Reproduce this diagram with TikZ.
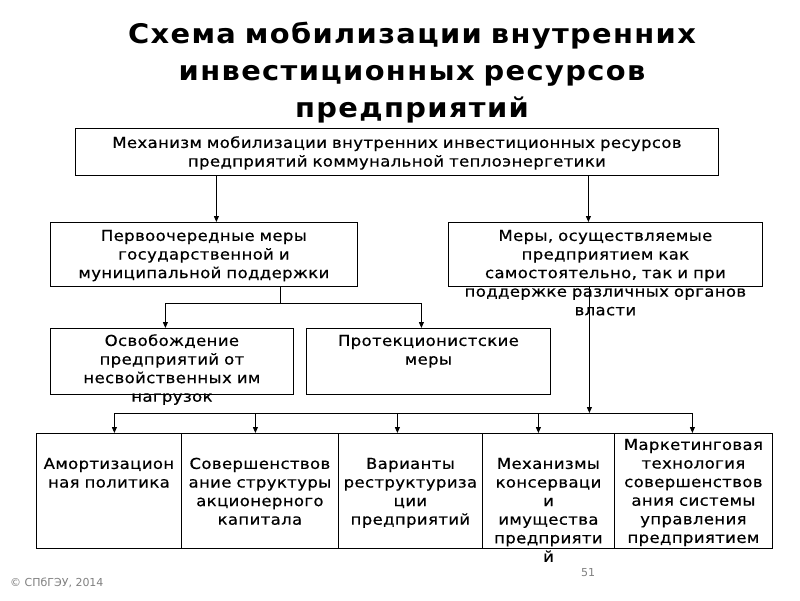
\documentclass[tikz,border=0pt]{standalone}
\usepackage{fontspec}
\setmainfont{DejaVu Sans}[FakeStretch=1.1,LetterSpace=2.5]
\newfontfamily\footfont{DejaVu Sans}
\usetikzlibrary{arrows.meta}

\tikzset{
  blk/.style={draw, line width=0.8pt, inner sep=0pt, anchor=north west, align=center,
    font=\fontsize{15}{18.6}\selectfont\addfontfeatures{FakeBold=0.5}},
  lnk/.style={line width=0.8pt},
  arr/.style={line width=0.8pt, -{Triangle[length=6pt,width=5pt]}},
  foot/.style={text=gray, inner sep=0pt, font=\footfont\fontsize{11}{13}\selectfont},
}

\begin{document}
\begin{tikzpicture}[x=1pt,y=1pt,yscale=-1,xscale=1]
\useasboundingbox (0,0) rectangle (800,600);

% Text Node
\node (title) [anchor=base, align=center, text width=780pt, inner sep=0pt,
  font=\fontsize{27}{37}\selectfont\bfseries\addfontfeatures{FakeStretch=1.07,LetterSpace=5}] at (412,43)
  {Схема мобилизации внутренних\\инвестиционных ресурсов\\предприятий};

%Shape: Rectangle
\node (mech) [blk, text width=643pt, text height=19.5pt, text depth=27.5pt] at (75,128)
  {Механизм мобилизации внутренних инвестиционных ресурсов\\предприятий коммунальной теплоэнергетики};
%Shape: Rectangle
\node (prio) [blk, text width=307pt, text height=18.5pt, text depth=45.5pt] at (50,222)
  {Первоочередные меры\\государственной и\\муниципальной поддержки};
%Shape: Rectangle
\node (self) [blk, text width=314pt, text height=18.5pt, text depth=45.5pt] at (448,222)
  {Меры, осуществляемые\\предприятием как\\самостоятельно, так и при\\поддержке различных органов\\власти};
%Shape: Rectangle
\node (free) [blk, text width=243pt, text height=17.5pt, text depth=48.5pt] at (50,328)
  {Освобождение\\предприятий от\\несвойственных им\\нагрузок};
%Shape: Rectangle
\node (prot) [blk, text width=244pt, text height=17.5pt, text depth=48.5pt] at (306,328)
  {Протекционистские\\меры};

%Shape: Rectangle
\node (amort) [blk, text width=145pt, text height=35.5pt, text depth=79.5pt] at (36,433)
  {Амортизацион\\ная политика};
%Shape: Rectangle
\node (equity) [blk, text width=157pt, text height=35.5pt, text depth=79.5pt] at (181,433)
  {Совершенствов\\ание структуры\\акционерного\\капитала};
%Shape: Rectangle
\node (restr) [blk, text width=144pt, text height=35.5pt, text depth=79.5pt] at (338,433)
  {Варианты\\реструктуриза\\ции\\предприятий};
%Shape: Rectangle
\node (cons) [blk, text width=132pt, text height=35.5pt, text depth=79.5pt] at (482,433)
  {Механизмы\\консерваци\\и\\имущества\\предприяти\\й};
%Shape: Rectangle
\node (mark) [blk, text width=158pt, text height=16.5pt, text depth=98.5pt] at (614,433)
  {Маркетинговая\\технология\\совершенствов\\ания системы\\управления\\предприятием};

\coordinate (fork) at (280,303);
\coordinate (busL) at (114,413);
\coordinate (busR) at (692,413);

%Straight Lines
\draw [arr] ([xshift=12.5pt]prio.north |- mech.south) -- ([xshift=12.5pt]prio.north);
\draw [arr] ([xshift=-17pt]self.north |- mech.south) -- ([xshift=-17pt]self.north);
%Straight Lines
\draw [lnk] (prio.south -| fork) -- (fork);
\draw [arr] (fork) -| ([xshift=-6.5pt]free.north);
\draw [arr] (fork) -| ([xshift=-7pt]prot.north);
%Straight Lines
\draw [arr] ([xshift=-16pt]self.south) -- ([xshift=-16pt]self.south |- busL);
\draw [lnk] (busL) -- (busR);
\foreach \n/\s in {amort/5.5,equity/-4.5,restr/-13,cons/-10,mark/-1}
  \draw [arr] ([xshift=\s pt]\n.north |- busL) -- ([xshift=\s pt]\n.north);

% Text Node
\node (copy) [foot, anchor=west] at (10,583) {© СПбГЭУ, 2014};
% Text Node
\node (page) [foot] at (588,573) {51};

\end{tikzpicture}
\end{document}
